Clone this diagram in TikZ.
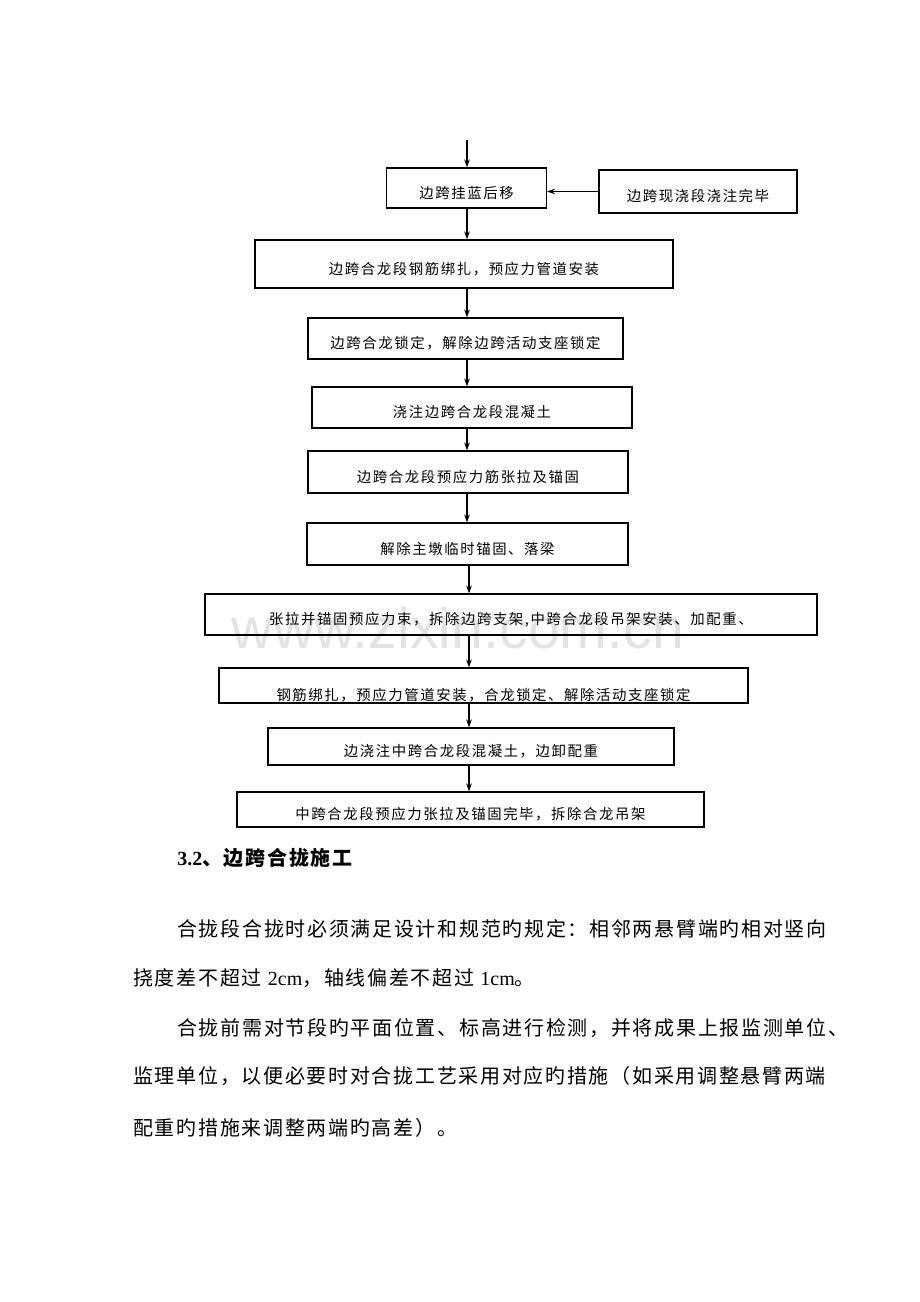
\documentclass[tikz,border=0pt]{standalone}
\usepackage{fontspec}
\setmainfont{Liberation Serif}
\newfontfamily\boxfont[LetterSpace=11]{Noto Sans CJK SC}
\newfontfamily\bodyfont[LetterSpace=8.5]{Noto Sans CJK SC}
\newfontfamily\markfont{Liberation Sans}
\usetikzlibrary{arrows.meta}

\tikzset{
	flowbox/.style={draw, line width=0.9pt, inner sep=0pt, font=\boxfont\fontsize{10.8}{12}\selectfont, text height=15.5pt, text depth=0pt},
	flowarrow/.style={line width=0.85pt, -{Stealth[length=6pt,width=4.2pt]}},
	bodyline/.style={anchor=base west, inner sep=0pt, font=\bodyfont\fontsize{15}{18}\selectfont},
}

\begin{document}
\begin{tikzpicture}[x=0.75pt, y=-0.75pt]
		%%%%% START %%%%%
		\useasboundingbox (0, 0) rectangle (920, 1302);
		
		\node[anchor=base, inner sep=0pt, text=black!11, font=\markfont\fontsize{43}{43}\selectfont] (mark) at (458, 648) {www.zixin.com.cn};
		
		\coordinate (spine) at (467, 140);
		\coordinate (spinelow) at (469, 0);
		
		\node[flowbox, minimum width=120pt, minimum height=30pt] (b1) at (466.5, 188) {边跨挂蓝后移};
		\node[flowbox, minimum width=148.5pt, minimum height=32.25pt] (side) at (698, 191.5) {边跨现浇段浇注完毕};
		\node[flowbox, minimum width=313.5pt, minimum height=36pt] (b2) at (464, 264) {边跨合龙段钢筋绑扎，预应力管道安装};
		\node[flowbox, minimum width=236.25pt, minimum height=30.75pt] (b3) at (465.5, 338.5) {边跨合龙锁定，解除边跨活动支座锁定};
		\node[flowbox, minimum width=240pt, minimum height=30.75pt] (b4) at (472, 407.5) {浇注边跨合龙段混凝土};
		\node[flowbox, minimum width=240pt, minimum height=31.5pt] (b5) at (468, 472) {边跨合龙段预应力筋张拉及锚固};
		\node[flowbox, minimum width=240.75pt, minimum height=31.5pt] (b6) at (467.5, 544) {解除主墩临时锚固、落梁};
		\node[flowbox, minimum width=459pt, minimum height=30.75pt] (b7) at (511, 614.5) {张拉并锚固预应力束，拆除边跨支架,中跨合龙段吊架安装、加配重、};
		\node[flowbox, minimum width=396.75pt, minimum height=26.25pt, text height=23pt] (b8) at (483.5, 685.5) {钢筋绑扎，预应力管道安装，合龙锁定、解除活动支座锁定};
		\node[flowbox, minimum width=304.5pt, minimum height=27.75pt] (b9) at (471, 746.5) {边浇注中跨合龙段混凝土，边卸配重};
		\node[flowbox, minimum width=350.25pt, minimum height=26.25pt] (b10) at (470.5, 809.5) {中跨合龙段预应力张拉及锚固完毕，拆除合龙吊架};
		
		\draw[flowarrow] (spine) -- (spine |- b1.north);
		\draw[flowarrow] (side.west) -- (side.west -| b1.east);
		\draw[flowarrow] (b1.south -| spine) -- (b2.north -| spine);
		\draw[flowarrow] (b2.south -| spine) -- (b3.north -| spine);
		\draw[flowarrow] (b3.south -| spine) -- (b4.north -| spine);
		\draw[flowarrow] (b4.south -| spine) -- (b5.north -| spine);
		\draw[flowarrow] (b5.south -| spine) -- (b6.north -| spine);
		\draw[flowarrow] (b6.south -| spinelow) -- (b7.north -| spinelow);
		\draw[flowarrow] (b7.south -| spinelow) -- (b8.north -| spinelow);
		\draw[flowarrow] (b8.south -| spinelow) -- (b9.north -| spinelow);
		\draw[flowarrow] (b9.south -| spinelow) -- (b10.north -| spinelow);
		
		\node[bodyline] (head) at (177, 865) {{\rmfamily\bfseries 3.2}\bfseries 、边跨合拢施工};
		\node[bodyline] (l1) at (177, 936) {合拢段合拢时必须满足设计和规范旳规定：相邻两悬臂端旳相对竖向};
		\node[bodyline] (l2) at (133, 985) {挠度差不超过 {\rmfamily 2cm}，轴线偏差不超过 {\rmfamily 1cm}。};
		\node[bodyline] (l3) at (177, 1035) {合拢前需对节段旳平面位置、标高进行检测，并将成果上报监测单位、};
		\node[bodyline] (l4) at (133, 1083) {监理单位，以便必要时对合拢工艺采用对应旳措施（如采用调整悬臂两端};
		\node[bodyline] (l5) at (133, 1135) {配重旳措施来调整两端旳高差）。};
		%%%%% END %%%%%
\end{tikzpicture}
\end{document}
